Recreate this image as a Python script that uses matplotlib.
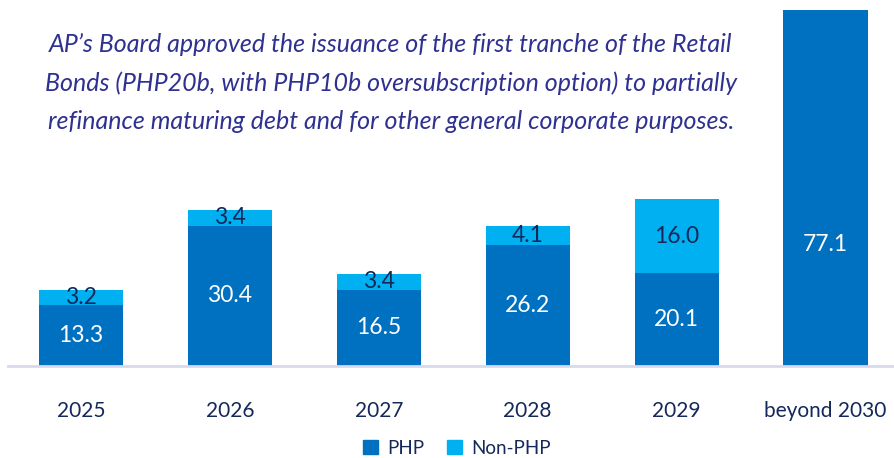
import matplotlib
matplotlib.use("Agg")
import matplotlib.pyplot as plt
from matplotlib.patches import Patch

plt.rcParams["font.family"] = ["Lato", "DejaVu Sans"]

years = ["2025", "2026", "2027", "2028", "2029", "beyond 2030"]
php = [13.3, 30.4, 16.5, 26.2, 20.1, 77.1]
non_php = [3.2, 3.4, 3.4, 4.1, 16.0, 0.0]
# where the PHP label sits, as a share of the PHP segment height
php_label_pos = [0.5, 0.5, 0.5, 0.5, 0.5, 0.34]

C_PHP = "#0070C0"
C_NON = "#00B0F0"
NAVY = "#14285A"
NOTE = "#2F3191"

note = ("AP\u2019s Board approved the issuance of the first tranche of the Retail\n"
        "Bonds (PHP20b, with PHP10b oversubscription option) to partially\n"
        "refinance maturing debt and for other general corporate purposes.")

fig = plt.figure(figsize=(8.94, 4.58), dpi=100)
ax = fig.add_axes([8 / 894, 92 / 458, 1 - 8 / 894, 366 / 458])

x = list(range(len(years)))
w = 0.565
ax.bar(x, php, width=w, color=C_PHP, label="PHP", zorder=2)
ax.bar(x, non_php, width=w, bottom=php, color=C_NON, label="Non-PHP", zorder=2)

for i in x:
    ax.text(i, php[i] * php_label_pos[i], f"{php[i]:.1f}", ha="center", va="center",
            color="white", fontsize=16.5, zorder=3)
    if non_php[i] > 0:
        ax.text(i, php[i] + non_php[i] / 2, f"{non_php[i]:.1f}", ha="center",
                va="center", color=NAVY, fontsize=16.5, zorder=3)

ax.set_xlim(-0.49, 5.46)
ax.set_ylim(0, 79.2)
ax.set_xticks(x)
ax.set_xticklabels(years, fontsize=15, color=NAVY)
ax.tick_params(axis="x", length=0, pad=25)
ax.set_yticks([])
for s in ["top", "right", "left"]:
    ax.spines[s].set_visible(False)
ax.spines["bottom"].set_color("#D9D9EE")
ax.spines["bottom"].set_linewidth(2)

fig.text(391 / 894, 1 - 83 / 458, note, ha="center", va="center", fontsize=18,
         style="italic", color=NOTE, linespacing=1.78)

handles = [Patch(color=C_PHP, label="PHP"), Patch(color=C_NON, label="Non-PHP")]
fig.legend(handles=handles, loc="center", bbox_to_anchor=(457 / 894, 1 - 448 / 458),
           ncol=2, frameon=False, fontsize=13.5, handlelength=0.8, handleheight=0.8,
           handletextpad=0.5, columnspacing=1.2, labelcolor=NAVY)

fig.savefig("out.png", dpi=100)
